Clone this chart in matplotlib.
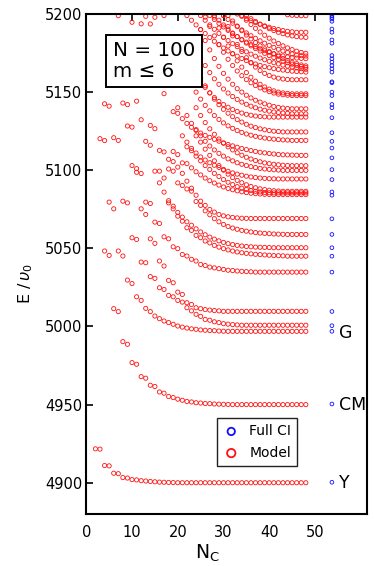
import matplotlib
matplotlib.use("Agg")
import matplotlib.pyplot as plt

plt.rcParams['font.family'] = ['DejaVu Sans']

# ---------------- data ----------------
# Model levels: converged energy, first N_C shown, and early (head) values per N_C
level_final = [4900.0, 4950.0, 4996.9, 5000.8, 5009.7, 5034.8, 5045.0, 5050.4,
               5058.9, 5069.1, 5084.4, 5085.5, 5086.5, 5094.4, 5099.9, 5102.9,
               5109.5, 5119.1, 5124.5, 5134.0, 5136.1, 5139.3, 5147.8, 5148.9,
               5157.9, 5162.8, 5164.0, 5165.0, 5166.0, 5171.3, 5173.0, 5174.5,
               5185.0, 5188.3, 5198.9]
level_start = [2, 4, 3, 4, 8, 7, 12, 10, 15, 13, 19, 22, 24, 17, 22, 24,
               19, 22, 24, 20, 23, 25, 26, 28, 30, 22, 25, 28, 31, 27, 30, 34,
               35, 33, 44]
level_head = [
    [4921.7, 4921.5, 4911.0, 4910.8, 4906.1, 4905.8, 4903.3, 4903.0, 4902.0, 4901.8,
     4901.3, 4901.1, 4900.8, 4900.6, 4900.4, 4900.3, 4900.2, 4900.1],
    [5048.3, 5045.5, 5011.4, 5009.5, 4990.3, 4988.6, 4976.9, 4975.8, 4967.9, 4966.9,
     4962.4, 4961.6, 4958.1, 4957.3, 4955.2, 4954.5, 4953.5, 4952.8, 4952.0, 4951.7,
     4951.2, 4951.0, 4950.7, 4950.6, 4950.4, 4950.3, 4950.2, 4950.1],
    [5120.2, 5119.0, 5079.6, 5075.3, 5048.3, 5045.1, 5029.7, 5027.5, 5019.0, 5016.7,
     5011.6, 5009.5, 5006.7, 5005.0, 5003.5, 5002.5, 5001.4, 5000.3, 4999.6, 4999.0,
     4998.5, 4998.2, 4997.8, 4997.6, 4997.4, 4997.3, 4997.1, 4997.0],
    [5142.5, 5141.0, 5120.8, 5119.1, 5080.2, 5079.1, 5056.8, 5055.7, 5041.2, 5040.8,
     5031.9, 5030.8, 5024.8, 5023.7, 5019.9, 5019.0, 5016.7, 5015.6, 5012.0, 5010.0,
     5007.8, 5006.5, 5004.5, 5004.0, 5003.0, 5002.5, 5001.8, 5001.5, 5001.2, 5001.0],
    [5143.0, 5142.0, 5103.0, 5101.0, 5075.3, 5071.7, 5056.1, 5053.2, 5041.9, 5038.7,
     5029.5, 5028.0, 5022.0, 5020.5, 5015.2, 5014.1, 5012.0, 5011.4, 5010.8, 5010.5,
     5010.2, 5010.0],
    [5198.9, 5160.0, 5128.3, 5127.6, 5098.7, 5097.9, 5079.6, 5078.7, 5066.8, 5065.9,
     5057.4, 5056.1, 5051.0, 5049.8, 5046.1, 5045.1, 5043.0, 5041.9, 5039.7, 5039.0,
     5038.0, 5037.5, 5037.0, 5036.5, 5036.0, 5035.8, 5035.5, 5035.3, 5035.1, 5035.0],
    [5193.7, 5160.0, 5128.7, 5126.6, 5099.4, 5095.0, 5079.1, 5075.3, 5070.6, 5067.4,
     5063.2, 5061.5, 5058.3, 5056.8, 5054.7, 5053.5, 5051.9, 5050.8, 5049.8, 5049.0,
     5048.3, 5047.7, 5047.2, 5046.8, 5046.5, 5046.2, 5046.0, 5045.8, 5045.6, 5045.4,
     5045.3, 5045.2],
    [5194.7, 5144.2, 5132.3, 5118.5, 5116.0, 5099.4, 5091.9, 5086.0, 5080.5, 5077.0,
     5073.0, 5070.0, 5067.0, 5064.8, 5062.5, 5060.5, 5058.7, 5057.2, 5055.9, 5054.8,
     5053.8, 5053.0, 5052.4, 5051.9, 5051.5, 5051.2, 5051.0, 5050.8, 5050.7, 5050.6,
     5050.5],
    [5197.9, 5170.0, 5149.0, 5100.8, 5099.4, 5091.9, 5090.2, 5088.0, 5086.6, 5080.0,
     5077.5, 5074.0, 5071.5, 5069.0, 5067.0, 5065.3, 5064.0, 5063.0, 5062.2, 5061.5,
     5061.0, 5060.5, 5060.1, 5059.8, 5059.6, 5059.4, 5059.2, 5059.1, 5059.0],
    [5198.5, 5193.6, 5160.0, 5112.7, 5111.7, 5107.0, 5105.5, 5102.0, 5098.0, 5093.0,
     5088.5, 5084.0, 5080.2, 5077.5, 5074.9, 5073.2, 5071.7, 5070.8, 5070.2, 5069.8,
     5069.5, 5069.3, 5069.2],
    [5112.0, 5110.0, 5104.7, 5104.2, 5101.5, 5099.0, 5097.0, 5095.0, 5093.3, 5091.8,
     5090.5, 5089.3, 5088.3, 5087.5, 5086.8, 5086.2, 5085.7, 5085.3, 5085.0, 5084.8,
     5084.6, 5084.5],
    [5115.0, 5112.5, 5109.0, 5106.0, 5103.0, 5100.5, 5098.0, 5096.0, 5094.0, 5092.3,
     5090.8, 5089.5, 5088.5, 5087.7, 5087.0, 5086.5, 5086.1, 5085.8, 5085.6],
    [5122.0, 5118.0, 5113.5, 5109.5, 5106.0, 5103.0, 5100.0, 5097.5, 5095.3, 5093.5,
     5092.0, 5090.7, 5089.6, 5088.8, 5088.1, 5087.6, 5087.2, 5086.9, 5086.7],
    [5199.0, 5180.0, 5160.0, 5140.0, 5122.0, 5118.0, 5114.0, 5111.0, 5108.5, 5106.5,
     5104.8, 5103.2, 5101.8, 5100.5, 5099.3, 5098.3, 5097.5, 5096.8, 5096.2, 5095.7,
     5095.3, 5095.0, 5094.8, 5094.6, 5094.5],
    [5135.0, 5130.0, 5126.0, 5122.0, 5118.5, 5115.5, 5113.0, 5110.8, 5109.0, 5107.3,
     5106.0, 5104.8, 5103.8, 5103.0, 5102.3, 5101.7, 5101.2, 5100.8, 5100.5, 5100.3,
     5100.1],
    [5140.0, 5135.0, 5130.5, 5126.5, 5123.0, 5120.0, 5117.3, 5115.0, 5113.0, 5111.2,
     5109.6, 5108.3, 5107.2, 5106.2, 5105.4, 5104.7, 5104.2, 5103.8, 5103.5, 5103.2,
     5103.0],
    [5137.5, 5136.4, 5133.0, 5130.0, 5127.5, 5125.5, 5123.8, 5122.3, 5121.0, 5119.8,
     5118.6, 5117.5, 5116.5, 5115.6, 5114.7, 5113.9, 5113.2, 5112.6, 5112.0, 5111.5,
     5111.1, 5110.7, 5110.4, 5110.1, 5109.9, 5109.8, 5109.7, 5109.6],
    [5160.0, 5155.0, 5150.0, 5145.5, 5141.5, 5138.0, 5135.0, 5132.5, 5130.3, 5128.4,
     5126.8, 5125.4, 5124.2, 5123.2, 5122.4, 5121.7, 5121.1, 5120.6, 5120.2, 5119.9,
     5119.6, 5119.4, 5119.3],
    [5165.0, 5159.0, 5154.0, 5149.5, 5145.5, 5142.0, 5139.0, 5136.5, 5134.3, 5132.4,
     5130.8, 5129.4, 5128.2, 5127.3, 5126.5, 5125.9, 5125.4, 5125.0, 5124.8],
    [5185.0, 5178.0, 5172.0, 5166.5, 5161.5, 5157.0, 5153.0, 5149.5, 5146.5, 5144.0,
     5142.0, 5140.3, 5138.8, 5137.6, 5136.6, 5135.8, 5135.2, 5134.7, 5134.4, 5134.2],
    [5185.0, 5178.0, 5172.0, 5167.0, 5162.5, 5158.5, 5155.0, 5152.0, 5149.4, 5147.2,
     5145.3, 5143.6, 5142.2, 5141.0, 5140.0, 5139.1, 5138.4, 5137.8, 5137.3, 5136.9,
     5136.6, 5136.4],
    [5190.0, 5183.0, 5177.0, 5171.5, 5166.5, 5162.0, 5158.3, 5155.0, 5152.2, 5150.0,
     5148.0, 5146.3, 5144.8, 5143.6, 5142.5, 5141.6, 5140.8, 5140.2, 5139.8, 5139.5],
    [5198.0, 5192.0, 5186.0, 5180.5, 5175.5, 5171.0, 5167.0, 5163.5, 5160.5, 5158.0,
     5156.0, 5154.2, 5152.7, 5151.4, 5150.3, 5149.4, 5148.7, 5148.3, 5148.0],
    [5198.0, 5191.0, 5185.0, 5179.5, 5174.5, 5170.0, 5166.0, 5162.5, 5159.5, 5157.0,
     5155.0, 5153.3, 5151.9, 5150.8, 5150.0, 5149.5, 5149.2],
    [5199.0, 5192.0, 5186.0, 5180.5, 5176.0, 5172.0, 5168.7, 5166.0, 5163.8, 5162.0,
     5160.6, 5159.6, 5158.9, 5158.4, 5158.1],
    [5199.0, 5196.0, 5193.0, 5190.0, 5187.5, 5185.0, 5182.5, 5180.3, 5178.2, 5176.3,
     5174.6, 5173.0, 5171.5, 5170.2, 5169.0, 5168.0, 5167.1, 5166.3, 5165.6, 5165.0,
     5164.5, 5164.1, 5163.7, 5163.4, 5163.2, 5163.0],
    [5199.0, 5196.0, 5193.0, 5190.2, 5187.6, 5185.2, 5183.0, 5181.0, 5179.1, 5177.4,
     5175.8, 5174.3, 5173.0, 5171.8, 5170.7, 5169.7, 5168.8, 5168.0, 5167.3, 5166.6,
     5166.0, 5165.5, 5165.0, 5164.6],
    [5199.0, 5196.0, 5193.0, 5190.3, 5187.8, 5185.5, 5183.4, 5181.4, 5179.6, 5177.9,
     5176.3, 5174.8, 5173.4, 5172.1, 5170.9, 5169.8, 5168.8, 5167.9, 5167.1, 5166.4,
     5165.8],
    [5199.0, 5195.5, 5192.3, 5189.3, 5186.5, 5184.0, 5181.7, 5179.6, 5177.7, 5176.0,
     5174.4, 5172.9, 5171.5, 5170.2, 5169.1, 5168.2, 5167.4, 5166.8],
    [5199.0, 5196.5, 5194.0, 5191.7, 5189.5, 5187.4, 5185.5, 5183.7, 5182.0, 5180.4,
     5179.0, 5177.7, 5176.5, 5175.5, 5174.6, 5173.8, 5173.1, 5172.5, 5172.1, 5171.8,
     5171.6, 5171.4],
    [5199.0, 5196.5, 5194.1, 5191.9, 5189.8, 5187.9, 5186.1, 5184.4, 5182.8, 5181.3,
     5179.9, 5178.6, 5177.4, 5176.3, 5175.3, 5174.4, 5173.7, 5173.3, 5173.1],
    [5199.0, 5196.0, 5193.3, 5190.8, 5188.5, 5186.4, 5184.5, 5182.7, 5181.1, 5179.6,
     5178.3, 5177.2, 5176.2, 5175.4, 5174.8],
    [5199.0, 5197.0, 5195.2, 5193.5, 5192.0, 5190.6, 5189.4, 5188.3, 5187.4, 5186.6,
     5186.0, 5185.5, 5185.2],
    [5200.0, 5198.5, 5197.0, 5195.7, 5194.5, 5193.4, 5192.4, 5191.5, 5190.7, 5190.0,
     5189.4, 5188.9, 5188.6],
    [5199.5, 5199.2, 5199.0],
]
last_nc = 48

# Full CI energies (single column)
fullci_nc = 53.7
fullci_energy = [4900.3, 4950.4, 4996.9, 5000.5, 5009.6, 5034.8, 5045.0, 5050.4,
                 5058.9, 5068.9, 5084.0, 5086.1, 5094.0, 5100.4, 5107.9, 5114.2,
                 5118.5, 5124.0, 5133.6, 5140.0, 5142.1, 5147.8, 5150.0, 5156.0,
                 5156.6, 5162.8, 5164.9, 5167.0, 5169.2, 5171.3, 5173.4, 5181.3,
                 5183.4, 5188.3, 5190.4, 5195.3, 5196.8, 5197.8, 5198.9, 5200.0]

state_labels = ["G", "CM", "Y"]
state_label_energy = [4996.0, 4950.0, 4900.0]

x_ticks = [0, 10, 20, 30, 40, 50]
y_ticks = [4900, 4950, 5000, 5050, 5100, 5150, 5200]

# ---------------- build model points ----------------
mx, my = [], []
for fin, st, head in zip(level_final, level_start, level_head):
    for i, n in enumerate(range(st, last_nc + 1)):
        mx.append(n)
        my.append(head[i] if i < len(head) else fin)

# ---------------- plot ----------------
fig = plt.figure(figsize=(3.74, 5.66), dpi=100)
ax = fig.add_axes([0.2307, 0.0919, 0.7497, 0.8834])

ax.scatter(mx, my, s=9, facecolors='none', edgecolors='#ff1010',
           linewidths=0.6, label='Model', zorder=2)
ax.scatter([fullci_nc] * len(fullci_energy), fullci_energy, s=7,
           facecolors='none', edgecolors='#1010ff', linewidths=0.6,
           label='Full CI', zorder=2)

ax.set_xlim(0, 61.3)
ax.set_ylim(4880, 5200)
ax.set_xticks(x_ticks)
ax.set_yticks(y_ticks)
ax.tick_params(axis='x', bottom=False, top=True, labelbottom=True,
               direction='in', length=5, width=1.2, labelsize=10.5, pad=8)
ax.tick_params(axis='y', left=True, right=False, direction='in',
               length=5, width=1.2, labelsize=10.5, pad=3)
for sp in ax.spines.values():
    sp.set_linewidth(1.5)

ax.set_xlabel(r'N$_\mathregular{C}$', fontsize=13.5)
ax.xaxis.set_label_coords(0.43, -0.058)
ax.set_ylabel(r'E /$\,\upsilon_0$', fontsize=11.5)
ax.yaxis.set_label_coords(-0.183, 0.46)

for lab, e in zip(state_labels, state_label_energy):
    ax.text(55.2, e, lab, fontsize=12.5, va='center', ha='left')

ax.text(0.095, 0.906, "N = 100\nm \u2264 6", transform=ax.transAxes,
        fontsize=14.3, va='center', ha='left', linespacing=1.1, zorder=5,
        bbox=dict(boxstyle='square,pad=0.33', fc='white', ec='black', lw=1.4))

handles, labels = ax.get_legend_handles_labels()
leg = ax.legend(handles[::-1], labels[::-1], loc='lower left',
                bbox_to_anchor=(0.465, 0.096), borderaxespad=0,
                fontsize=10, markerscale=2.0, handletextpad=0.7,
                fancybox=False, edgecolor='#222222', framealpha=1,
                borderpad=0.45, labelspacing=0.55, handlelength=1.2)
leg.get_frame().set_linewidth(1.0)
for h in leg.legend_handles:
    h.set_linewidth(1.3)
leg.set_zorder(6)

fig.savefig('out.png', dpi=100)
